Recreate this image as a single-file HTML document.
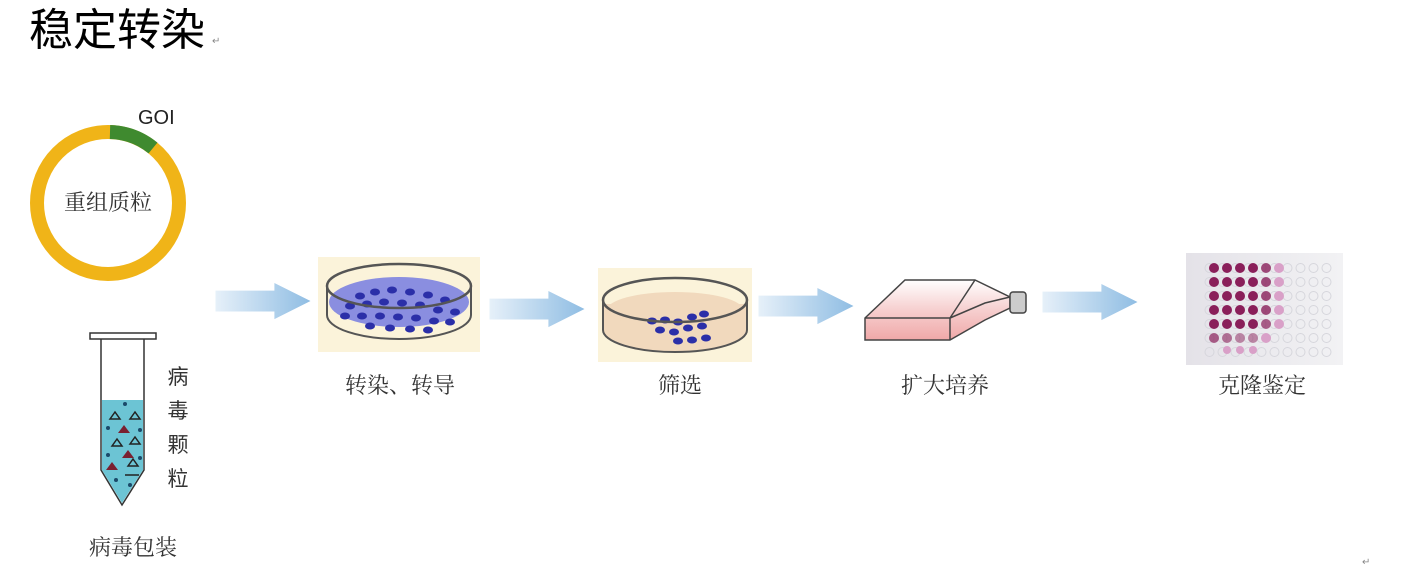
<!DOCTYPE html>
<html><head><meta charset="utf-8"><style>
html,body{margin:0;padding:0;background:#fff;width:1406px;height:570px;overflow:hidden}
svg{display:block}
text{font-family:"Liberation Sans","Noto Sans CJK SC",sans-serif}
.cn{font-family:"Liberation Serif","Noto Serif CJK SC",serif;fill:#333}
</style></head><body>
<svg width="1406" height="570" viewBox="0 0 1406 570" xmlns="http://www.w3.org/2000/svg">
<defs>
<linearGradient id="ag" x1="0" x2="1" y1="0" y2="0"><stop offset="0" stop-color="#e6f0f9"/><stop offset="1" stop-color="#8fbde3"/></linearGradient>
<linearGradient id="pk" x1="0" x2="0" y1="0" y2="1"><stop offset="0" stop-color="#fff"/><stop offset="0.5" stop-color="#f6cfcf"/><stop offset="1" stop-color="#f0a8a8"/></linearGradient>
<linearGradient id="pl" x1="0" x2="1" y1="0" y2="0"><stop offset="0" stop-color="#e4e2e8"/><stop offset="1" stop-color="#f2f2f4"/></linearGradient>
<symbol id="arr" viewBox="0 0 100 40"><path d="M0 8 H62 V0 L100 19 L62 38 V30 H0 Z" fill="url(#ag)"/></symbol>
<pattern id="wells" x="1203" y="261" width="13" height="14" patternUnits="userSpaceOnUse"><circle cx="6.5" cy="7" r="4.5" fill="none" stroke="#d6d6dc" stroke-width="1"/></pattern>
</defs>
<text x="29" y="45" font-size="44" fill="#000">稳定转染</text>
<text x="212" y="44" font-size="10" fill="#888">↵</text>

<!-- plasmid -->
<circle cx="108" cy="203" r="71" fill="none" stroke="#f0b418" stroke-width="14"/>
<path d="M110 132 A71 71 0 0 1 153 148" fill="none" stroke="#3f8a2f" stroke-width="14"/>
<text x="138" y="124" font-size="20" fill="#222">GOI</text>
<text x="108" y="210" font-size="22" text-anchor="middle" class="cn">重组质粒</text>

<!-- tube -->
<rect x="90" y="333" width="66" height="6" fill="#fff" stroke="#333" stroke-width="1.5"/>
<path d="M101 339 V470 L122 505 L144 470 V339" fill="none" stroke="#333" stroke-width="1.5"/>
<path d="M102 400 H143 V470 L122 503 L102 470 Z" fill="#6cc4d4"/>
<g fill="none" stroke="#222" stroke-width="1.5">
<path d="M110 419 l5 -7 l5 7 z"/><path d="M130 419 l5 -7 l5 7 z"/><path d="M112 446 l5 -7 l5 7 z"/><path d="M130 444 l5 -7 l5 7 z"/><path d="M128 466 l5 -7 l5 7 z"/><path d="M125 475 h14"/>
</g>
<g fill="#7a2030"><path d="M118 433 l6 -8 l6 8z"/><path d="M122 458 l6 -8 l6 8z"/><path d="M106 470 l6 -8 l6 8z"/></g>
<g fill="#1a4a6a"><circle cx="125" cy="404" r="2"/><circle cx="108" cy="428" r="2"/><circle cx="140" cy="430" r="2"/><circle cx="108" cy="455" r="2"/><circle cx="116" cy="480" r="2"/><circle cx="130" cy="485" r="2"/><circle cx="140" cy="458" r="2"/></g>
<g font-size="21" class="cn" text-anchor="middle"><text x="178" y="384">病</text><text x="178" y="418">毒</text><text x="178" y="452">颗</text><text x="178" y="486">粒</text></g>
<text x="133" y="555" font-size="22" text-anchor="middle" class="cn">病毒包装</text>

<!-- arrows -->
<use href="#arr" x="213" y="283" width="100" height="38"/>
<use href="#arr" x="487" y="291" width="100" height="38"/>
<use href="#arr" x="757" y="288" width="98" height="38"/>
<use href="#arr" x="1040" y="284" width="100" height="38"/>

<!-- dish 1 -->
<rect x="318" y="257" width="162" height="95" fill="#fbf3da"/>
<ellipse cx="399" cy="302" rx="70" ry="25" fill="#8a8ee0"/>
<g fill="#2b2fa8">
<ellipse cx="360" cy="296" rx="5" ry="3.5"/><ellipse cx="375" cy="292" rx="5" ry="3.5"/><ellipse cx="392" cy="290" rx="5" ry="3.5"/><ellipse cx="410" cy="292" rx="5" ry="3.5"/><ellipse cx="428" cy="295" rx="5" ry="3.5"/><ellipse cx="445" cy="300" rx="5" ry="3.5"/>
<ellipse cx="350" cy="306" rx="5" ry="3.5"/><ellipse cx="367" cy="304" rx="5" ry="3.5"/><ellipse cx="384" cy="302" rx="5" ry="3.5"/><ellipse cx="402" cy="303" rx="5" ry="3.5"/><ellipse cx="420" cy="305" rx="5" ry="3.5"/><ellipse cx="438" cy="310" rx="5" ry="3.5"/><ellipse cx="455" cy="312" rx="5" ry="3.5"/>
<ellipse cx="345" cy="316" rx="5" ry="3.5"/><ellipse cx="362" cy="316" rx="5" ry="3.5"/><ellipse cx="380" cy="316" rx="5" ry="3.5"/><ellipse cx="398" cy="317" rx="5" ry="3.5"/><ellipse cx="416" cy="318" rx="5" ry="3.5"/><ellipse cx="434" cy="321" rx="5" ry="3.5"/><ellipse cx="450" cy="322" rx="5" ry="3.5"/>
<ellipse cx="370" cy="326" rx="5" ry="3.5"/><ellipse cx="390" cy="328" rx="5" ry="3.5"/><ellipse cx="410" cy="329" rx="5" ry="3.5"/><ellipse cx="428" cy="330" rx="5" ry="3.5"/>
</g>
<path d="M327 286 V315 A72 24 0 0 0 471 315 V286" fill="none" stroke="#555" stroke-width="2"/>
<ellipse cx="399" cy="286" rx="72" ry="22" fill="none" stroke="#555" stroke-width="2.5"/>
<text x="400" y="393" font-size="22" text-anchor="middle" class="cn">转染、转导</text>

<!-- dish 2 -->
<rect x="598" y="268" width="154" height="94" fill="#fbf3da"/>
<path d="M603 304 V330 A72 22 0 0 0 747 330 V304 Z" fill="#f1d9bd"/>
<ellipse cx="675" cy="310" rx="68" ry="18" fill="#f1d9bd"/>
<g fill="#2b2fa8">
<ellipse cx="652" cy="321" rx="5" ry="3.5"/><ellipse cx="665" cy="320" rx="5" ry="3.5"/><ellipse cx="678" cy="322" rx="5" ry="3.5"/><ellipse cx="692" cy="317" rx="5" ry="3.5"/><ellipse cx="704" cy="314" rx="5" ry="3.5"/>
<ellipse cx="660" cy="330" rx="5" ry="3.5"/><ellipse cx="674" cy="332" rx="5" ry="3.5"/><ellipse cx="688" cy="328" rx="5" ry="3.5"/><ellipse cx="702" cy="326" rx="5" ry="3.5"/>
<ellipse cx="678" cy="341" rx="5" ry="3.5"/><ellipse cx="692" cy="340" rx="5" ry="3.5"/><ellipse cx="706" cy="338" rx="5" ry="3.5"/>
</g>
<path d="M603 300 V330 A72 22 0 0 0 747 330 V300" fill="none" stroke="#555" stroke-width="2"/>
<ellipse cx="675" cy="300" rx="72" ry="22" fill="none" stroke="#555" stroke-width="2.5"/>
<text x="680" y="393" font-size="22" text-anchor="middle" class="cn">筛选</text>

<!-- flask -->
<path d="M865 318 L905 280 H975 L1010 297 V308 L985 320 L950 340 H865 Z" fill="url(#pk)" stroke="#444" stroke-width="1.5"/>
<path d="M865 318 H950 V340 M950 318 L975 280 M950 318 L985 303 L1010 297" fill="none" stroke="#444" stroke-width="1.5"/>
<rect x="1010" y="292" width="16" height="21" rx="3" fill="#ccc" stroke="#444" stroke-width="1.5"/>
<text x="945" y="393" font-size="22" text-anchor="middle" class="cn">扩大培养</text>

<!-- plate -->
<rect x="1186" y="253" width="157" height="112" fill="url(#pl)"/>
<rect x="1203" y="261" width="130" height="98" fill="url(#wells)"/>
<g>
<g fill="#8a1f5a">
<circle cx="1214" cy="268" r="5"/><circle cx="1227" cy="268" r="5"/><circle cx="1240" cy="268" r="5"/><circle cx="1253" cy="268" r="5"/><circle cx="1266" cy="268" r="5" opacity=".8"/>
<circle cx="1214" cy="282" r="5"/><circle cx="1227" cy="282" r="5"/><circle cx="1240" cy="282" r="5"/><circle cx="1253" cy="282" r="5"/><circle cx="1266" cy="282" r="5" opacity=".8"/>
<circle cx="1214" cy="296" r="5"/><circle cx="1227" cy="296" r="5"/><circle cx="1240" cy="296" r="5"/><circle cx="1253" cy="296" r="5"/><circle cx="1266" cy="296" r="5" opacity=".8"/>
<circle cx="1214" cy="310" r="5"/><circle cx="1227" cy="310" r="5"/><circle cx="1240" cy="310" r="5"/><circle cx="1253" cy="310" r="5"/><circle cx="1266" cy="310" r="5" opacity=".8"/>
<circle cx="1214" cy="324" r="5"/><circle cx="1227" cy="324" r="5"/><circle cx="1240" cy="324" r="5"/><circle cx="1253" cy="324" r="5"/><circle cx="1266" cy="324" r="5" opacity=".7"/>
<circle cx="1214" cy="338" r="5" opacity=".7"/><circle cx="1227" cy="338" r="5" opacity=".6"/><circle cx="1240" cy="338" r="5" opacity=".5"/><circle cx="1253" cy="338" r="5" opacity=".5"/>
</g>
<g fill="#d9a0c8"><circle cx="1279" cy="268" r="5"/><circle cx="1279" cy="282" r="5"/><circle cx="1279" cy="296" r="5"/><circle cx="1279" cy="310" r="5"/><circle cx="1279" cy="324" r="5"/><circle cx="1266" cy="338" r="5"/><circle cx="1227" cy="350" r="4"/><circle cx="1240" cy="350" r="4"/><circle cx="1253" cy="350" r="4"/></g>
</g>
<text x="1262" y="393" font-size="22" text-anchor="middle" class="cn">克隆鉴定</text>
<text x="1362" y="565" font-size="10" fill="#888">↵</text>
</svg>
</body></html>
